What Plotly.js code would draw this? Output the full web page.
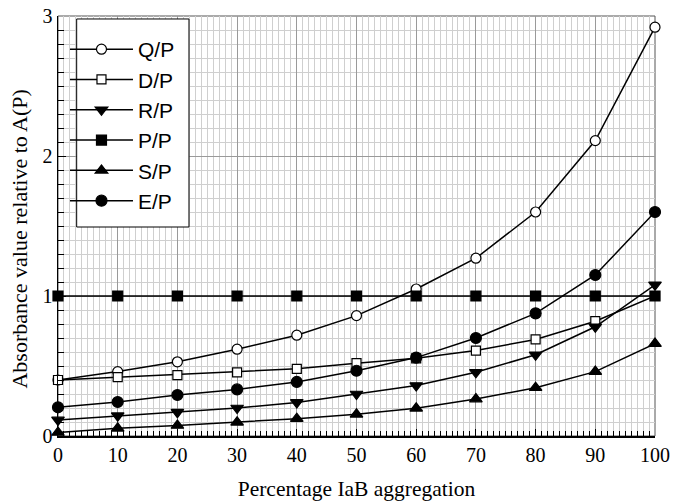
<!DOCTYPE html>
<html>
<head>
<meta charset="utf-8">
<script src="https://cdn.plot.ly/plotly-3.0.1.min.js"></script>
<style>html,body{margin:0;padding:0;background:#fff;}#chart{width:673px;height:504px;}</style>
</head>
<body>
<div id="chart"></div>
<script>
var xValues = [0, 10, 20, 30, 40, 50, 60, 70, 80, 90, 100];
var seriesNames = ["Q/P", "D/P", "R/P", "P/P", "S/P", "E/P"];
var qp = [0.40, 0.46, 0.53, 0.62, 0.72, 0.86, 1.05, 1.27, 1.60, 2.11, 2.92];
var dp = [0.40, 0.42, 0.435, 0.455, 0.48, 0.52, 0.555, 0.61, 0.69, 0.82, 1.00];
var rp = [0.115, 0.145, 0.17, 0.20, 0.24, 0.30, 0.36, 0.455, 0.58, 0.78, 1.08];
var pp = [1, 1, 1, 1, 1, 1, 1, 1, 1, 1, 1];
var sp = [0.025, 0.055, 0.075, 0.098, 0.124, 0.155, 0.198, 0.264, 0.345, 0.46, 0.66];
var ep = [0.205, 0.243, 0.293, 0.333, 0.386, 0.466, 0.56, 0.70, 0.876, 1.15, 1.60];
var xTickVals = [0, 10, 20, 30, 40, 50, 60, 70, 80, 90, 100];
var yTickVals = [0, 1, 2, 3];
var xTitle = "Percentage IaB aggregation";
var yTitle = "Absorbance value relative to A(P)";

var seriesData = [qp, dp, rp, pp, sp, ep];
var styles = [
  {symbol: "circle", color: "white", size: 10},
  {symbol: "square", color: "white", size: 9},
  {symbol: "triangle-down", color: "black", size: 11},
  {symbol: "square", color: "black", size: 10},
  {symbol: "triangle-up", color: "black", size: 11},
  {symbol: "circle", color: "black", size: 11}
];

var traces = seriesNames.map(function (name, i) {
  return {
    x: xValues,
    y: seriesData[i],
    name: name,
    type: "scatter",
    mode: "lines+markers",
    line: {color: "black", width: 1.5},
    marker: {
      symbol: styles[i].symbol,
      color: styles[i].color,
      size: styles[i].size,
      line: {color: "black", width: 1.2}
    },
    cliponaxis: false
  };
});

var serif = "Liberation Serif, Times New Roman, serif";

var layout = {
  width: 673,
  height: 504,
  margin: {l: 58, r: 18, t: 16, b: 68},
  paper_bgcolor: "white",
  plot_bgcolor: "white",
  showlegend: true,
  legend: {
    x: 0.0117, y: 0.969, xanchor: "left", yanchor: "top",
    bgcolor: "rgba(0,0,0,0)", borderwidth: 0,
    font: {family: "Liberation Sans, Arial, sans-serif", size: 21, color: "black"},
    itemwidth: 63,
    tracegroupgap: 0
  },
  xaxis: {
    range: [0, 100],
    tickvals: xTickVals,
    ticktext: xTickVals.map(String),
    ticks: "inside", ticklen: 7, tickcolor: "black", tickwidth: 1,
    showline: true, linecolor: "black", linewidth: 1.5,
    showgrid: true, gridcolor: "#9a9a9a", gridwidth: 1,
    zeroline: false,
    minor: {dtick: 1, ticks: "inside", ticklen: 5, tickcolor: "black", showgrid: true, gridcolor: "#cfcfcf", gridwidth: 1},
    tickfont: {family: serif, size: 20, color: "black"},
    title: {text: xTitle, font: {family: serif, size: 21.5, color: "black"}, standoff: 16},
    automargin: false
  },
  yaxis: {
    range: [0, 3],
    tickvals: yTickVals,
    ticktext: yTickVals.map(String),
    ticks: "inside", ticklen: 8, tickcolor: "black", tickwidth: 1,
    showline: true, linecolor: "black", linewidth: 1.5,
    showgrid: true, gridcolor: "#9a9a9a", gridwidth: 1,
    zeroline: false,
    minor: {dtick: 0.1, ticks: "inside", ticklen: 6, tickcolor: "black", showgrid: true, gridcolor: "#cfcfcf", gridwidth: 1},
    tickfont: {family: serif, size: 20, color: "black"},
    automargin: false
  },
  annotations: [{
    text: yTitle, xref: "paper", yref: "paper", x: -0.0645, y: 0.469,
    xanchor: "center", yanchor: "middle", textangle: -90, showarrow: false,
    font: {family: serif, size: 22, color: "black"}
  }],
  shapes: [
    {type: "rect", xref: "paper", yref: "paper", x0: 0, x1: 1, y0: 0, y1: 1,
     line: {color: "#555", width: 1}, layer: "below"},
    {type: "rect", xref: "paper", yref: "paper", x0: 0.0313, x1: 0.2194, y0: 0.4976, y1: 0.9929,
     fillcolor: "white", line: {color: "black", width: 1}, layer: "above"}
  ]
};

Plotly.newPlot("chart", traces, layout, {displayModeBar: false, staticPlot: true});
</script>
</body>
</html>
